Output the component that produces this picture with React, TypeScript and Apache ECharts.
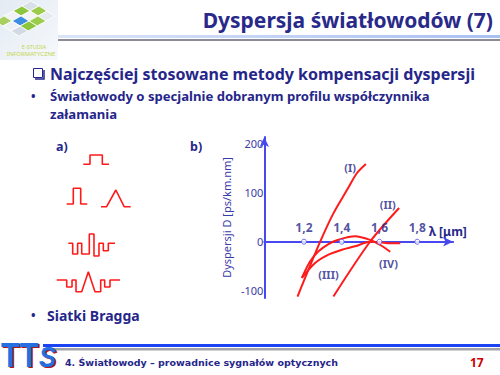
import React, { useEffect, useRef } from 'react';
import * as echarts from 'echarts';

// ---- chart b): dispersion D [ps/(km·nm)] vs wavelength λ [µm]
const wavelengthTicks = [1.2, 1.4, 1.6, 1.8];
const dispersionTicks = [-100, 0, 100, 200];
const curveI = [[1.166, -112], [1.286, 0], [1.356, 58], [1.427, 105], [1.48, 140], [1.528, 159]];
const curveII = [[1.356, -112], [1.55, 0], [1.704, 69]];
const curveIII = [[1.189, -74], [1.259, -43.5], [1.33, -26.5], [1.401, -16.3], [1.471, -9.4], [1.551, 0], [1.604, -1], [1.657, -3], [1.71, -3]];
const curveIV = [[1.189, -74], [1.233, -40], [1.277, -19.6], [1.33, -4.7], [1.383, 4.1], [1.471, 11], [1.551, 3.5], [1.604, -6.7], [1.657, -20.4]];
const curveNames = ['(I)', '(II)', '(III)', '(IV)'];
const curveLabelPos = [[1.445, 152], [1.644, 76], [1.33, -66], [1.648, -44]];

// ---- panel a): refractive-index profiles (normalised radius, relative index level)
const profileI = [[0, 0], [0.26, 0], [0.26, 1], [0.74, 1], [0.74, 0], [1, 0]];
const profileIIa = [[0, 0], [0.32, 0], [0.32, 1], [0.68, 1], [0.68, 0], [1, 0]];
const profileIIb = [[0, 0], [0.19, 0], [0.5, 1], [0.78, 0], [1, 0]];
const profileIII = [[0, 0], [0.094, 0], [0.094, -1.15], [0.2, -1.15], [0.2, 0], [0.287, 0], [0.287, -1.15], [0.45, -1.15], [0.45, 1], [0.55, 1], [0.55, -1.37], [0.657, -1.37], [0.657, 0], [0.75, 0], [0.75, -0.8], [0.857, -0.8], [0.857, 0], [1, 0]];
const profileIV = [[0, 0], [0.158, 0], [0.158, -0.84], [0.242, -0.84], [0.242, 0], [0.305, 0], [0.305, -1.41], [0.395, -1.41], [0.5, 1], [0.605, -1.41], [0.695, -1.41], [0.695, 0], [0.758, 0], [0.758, -0.84], [0.842, -0.84], [0.842, 0], [1, 0]];

const NAVY = '#26268a';
const AXIS = '#4848f0';
const RED = '#ff1a1a';
const FONT = 'Noto Sans, DejaVu Sans, sans-serif';

function rhombus(i: number, j: number) {
  const bx = 31, by = 1, ux = 8, uy = 5, vx = -9, vy = 5;
  const p = (a: number, b: number) => [bx + a * ux + b * vx, by + a * uy + b * vy];
  return [p(i, j), p(i + 1, j), p(i + 1, j + 1), p(i, j + 1)];
}

const logoCells: [number, number, string][] = [
  [0, 0, '#d9e0e8'], [1, 0, '#9ccc4c'], [2, 0, '#e6ebf0'],
  [0, 1, '#8cc63f'], [1, 1, '#f2f4f6'], [2, 1, '#9ccc4c'],
  [0, 2, '#f0f2f5'], [1, 2, '#3c8ee0'], [2, 2, '#8cc63f'],
  [0, 3, '#a8d060'], [1, 3, '#eef1f4'], [2, 3, '#d2dae3'],
];

function hiddenAxes(gridIndex: number, min: number, max: number) {
  return {
    x: { type: 'value', gridIndex, min: 0, max: 1, show: false },
    y: { type: 'value', gridIndex, min, max, show: false },
  };
}

export default function App() {
  const ref = useRef<HTMLDivElement>(null);
  useEffect(() => {
    document.body.style.margin = '0';
    const chart = echarts.init(ref.current!, null, { renderer: 'svg' });
    const profiles = [
      { data: profileI, min: 0, max: 1 },
      { data: profileIIa, min: 0, max: 1 },
      { data: profileIIb, min: 0, max: 1 },
      { data: profileIII, min: -1.37, max: 1 },
      { data: profileIV, min: -1.41, max: 1 },
    ];
    const extra = profiles.map((p, k) => hiddenAxes(k + 1, p.min, p.max));

    const txt = (text: string, x: number, y: number, size: number, extraStyle: any = {}) => ({
      type: 'text', x, y,
      style: { text, fill: NAVY, fontSize: size, fontFamily: FONT, fontWeight: 'bold', align: 'left', verticalAlign: 'middle', ...extraStyle },
    });
    const logoFont = 'Liberation Sans, sans-serif';

    const option: any = {
      animation: false,
      backgroundColor: '#ffffff',
      grid: [
        { left: 264.3, top: 137, width: 188.8, height: 161 },
        { left: 83.3, top: 155, width: 25.7, height: 9.3 },
        { left: 66.7, top: 188.3, width: 20.6, height: 15.7 },
        { left: 101, top: 190, width: 29.7, height: 16.7 },
        { left: 68.3, top: 234, width: 46.7, height: 22 },
        { left: 56.7, top: 271.7, width: 63.3, height: 20 },
      ],
      xAxis: [
        {
          type: 'value', gridIndex: 0, min: 0.99, max: 1.99,
          axisLine: { onZero: true, symbol: ['none', 'arrow'], symbolSize: [7, 10], lineStyle: { color: AXIS, width: 2 } },
          axisTick: { show: false },
          splitLine: { show: false },
          axisLabel: { show: false },
          name: 'λ [μm]', nameLocation: 'end', nameGap: -24,
          nameTextStyle: { color: NAVY, fontWeight: 'bold', fontSize: 12, fontFamily: FONT, align: 'left', verticalAlign: 'bottom', padding: [0, 0, 4, 0] },
        },
        ...extra.map((e) => e.x),
      ],
      yAxis: [
        {
          type: 'value', gridIndex: 0, min: -115, max: 214,
          axisLine: { symbol: ['none', 'arrow'], symbolSize: [7, 10], lineStyle: { color: AXIS, width: 2 } },
          axisTick: { show: false },
          splitLine: { show: false },
          axisLabel: { customValues: dispersionTicks, margin: 1, color: '#3a3aa8', fontSize: 11, fontFamily: FONT },
          name: 'Dyspersji D [ps/km.nm]', nameLocation: 'middle', nameGap: 32,
          nameTextStyle: { color: '#3a3aa8', fontSize: 11, fontFamily: FONT },
        },
        ...extra.map((e) => e.y),
      ],
      series: [
        ...[curveI, curveII, curveIII, curveIV].map((d) => ({
          type: 'line', xAxisIndex: 0, yAxisIndex: 0, data: d, smooth: 0.3, showSymbol: false, clip: false,
          lineStyle: { color: RED, width: 2 },
        })),
        {
          type: 'scatter', xAxisIndex: 0, yAxisIndex: 0, z: 4,
          data: wavelengthTicks.map((v) => [v, 0]),
          symbol: 'circle', symbolSize: 5,
          itemStyle: { color: '#ffffff', borderColor: AXIS, borderWidth: 1 },
          label: {
            show: true, position: 'top', distance: 5,
            formatter: (p: any) => p.value[0].toFixed(1).replace('.', ','),
            color: NAVY, fontWeight: 'bold', fontSize: 12, fontFamily: FONT,
          },
        },
        {
          type: 'scatter', xAxisIndex: 0, yAxisIndex: 0, z: 5, symbolSize: 1,
          itemStyle: { color: 'rgba(0,0,0,0)' },
          data: curveLabelPos.map((p, i) => ({ value: p, name: curveNames[i] })),
          label: { show: true, position: 'inside', formatter: (p: any) => p.name, color: NAVY, fontWeight: 'bold', fontSize: 11, fontFamily: FONT },
        },
        ...profiles.map((p, k) => ({
          type: 'line', xAxisIndex: k + 1, yAxisIndex: k + 1, data: p.data, showSymbol: false, clip: false,
          lineStyle: { color: RED, width: 1.6 },
        })),
      ],
      graphic: [
        // logo
        {
          type: 'rect', shape: { x: 0, y: 0, width: 58, height: 60 },
          style: { fill: new echarts.graphic.LinearGradient(0, 0, 1, 1, [{ offset: 0, color: '#e3ebf4' }, { offset: 1, color: '#f6f8fb' }]) },
        },
        ...logoCells.map(([i, j, c]) => ({ type: 'polygon', shape: { points: rhombus(i, j) }, style: { fill: c, stroke: '#ffffff', lineWidth: 0.8 } })),
        { type: 'text', x: 34, y: 46.5, style: { text: 'E-STUDIA', fill: '#c2d64a', fontSize: 5.5, lineHeight: 6, fontFamily: FONT, align: 'center', verticalAlign: 'middle' } },
        { type: 'text', x: 31, y: 54, style: { text: 'INFORMATYCZNE', fill: '#c2d64a', fontSize: 6, lineHeight: 6.5, fontFamily: FONT, align: 'center', verticalAlign: 'middle' } },
        // title
        { type: 'text', x: 493, y: 20, style: { text: 'Dyspersja światłowodów (7)', fill: '#29298a', fontSize: 21, fontFamily: FONT, fontWeight: 'bold', align: 'right', verticalAlign: 'middle' } },
        { type: 'rect', shape: { x: 58, y: 35, width: 442, height: 3 }, style: { fill: new echarts.graphic.LinearGradient(0, 0, 1, 0, [{ offset: 0, color: '#dbe5f8' }, { offset: 1, color: '#a9c0f2' }]) } },
        { type: 'rect', shape: { x: 58, y: 39, width: 442, height: 2 }, style: { fill: '#8c8c98' } },
        // checkbox bullet
        { type: 'rect', shape: { x: 33.5, y: 68.5, width: 9, height: 9 }, style: { fill: '#ffffff', stroke: NAVY, lineWidth: 1 } },
        { type: 'polyline', shape: { points: [[44, 70], [44, 79], [35, 79]] }, style: { stroke: NAVY, lineWidth: 1.5, fill: null } },
        txt('Najczęściej stosowane metody kompensacji dyspersji', 50, 74, 16),
        txt('•', 31, 96, 12),
        txt('Światłowody o specjalnie dobranym profilu współczynnika', 50, 96, 13.1),
        txt('załamania', 50, 114, 13.1),
        txt('a)', 56, 146, 12.5),
        txt('b)', 190, 146, 12.5),
        txt('•', 31, 315, 12),
        txt('Siatki Bragga', 47, 315, 14),
        // footer
        { type: 'rect', shape: { x: 43, y: 344, width: 457, height: 3 }, style: { fill: '#1c44f2' } },
        { type: 'rect', shape: { x: 43, y: 348, width: 457, height: 2.5 }, style: { fill: '#a2a2a8' } },
        { type: 'text', x: 2.5, y: 356, scaleX: 0.85, style: { text: 'TT', fill: '#b01818', fontSize: 36, lineHeight: 36, fontFamily: logoFont, fontWeight: 'bold', align: 'left', verticalAlign: 'middle' } },
        { type: 'text', x: 1, y: 355, scaleX: 0.85, style: { text: 'TT', fill: '#2470e0', fontSize: 36, lineHeight: 36, fontFamily: logoFont, fontWeight: 'bold', align: 'left', verticalAlign: 'middle' } },
        { type: 'text', x: 40.5, y: 358, scaleX: 0.85, style: { text: 'S', fill: '#b01818', fontSize: 30, lineHeight: 30, fontFamily: logoFont, fontWeight: 'bold', fontStyle: 'italic', align: 'left', verticalAlign: 'middle' } },
        { type: 'text', x: 39, y: 357, scaleX: 0.85, style: { text: 'S', fill: '#2470e0', fontSize: 30, lineHeight: 30, fontFamily: logoFont, fontWeight: 'bold', fontStyle: 'italic', align: 'left', verticalAlign: 'middle' } },
        txt('4. Światłowody – prowadnice sygnałów optycznych', 65, 362, 9.5, { fontFamily: 'DejaVu Sans, sans-serif' }),
        txt('17', 470, 362, 12, { fill: '#cc0000' }),
      ],
    };
    chart.setOption(option);
    return () => chart.dispose();
  }, []);
  return <div ref={ref} style={{ position: 'absolute', left: 0, top: 0, width: 500, height: 375 }} />;
}
